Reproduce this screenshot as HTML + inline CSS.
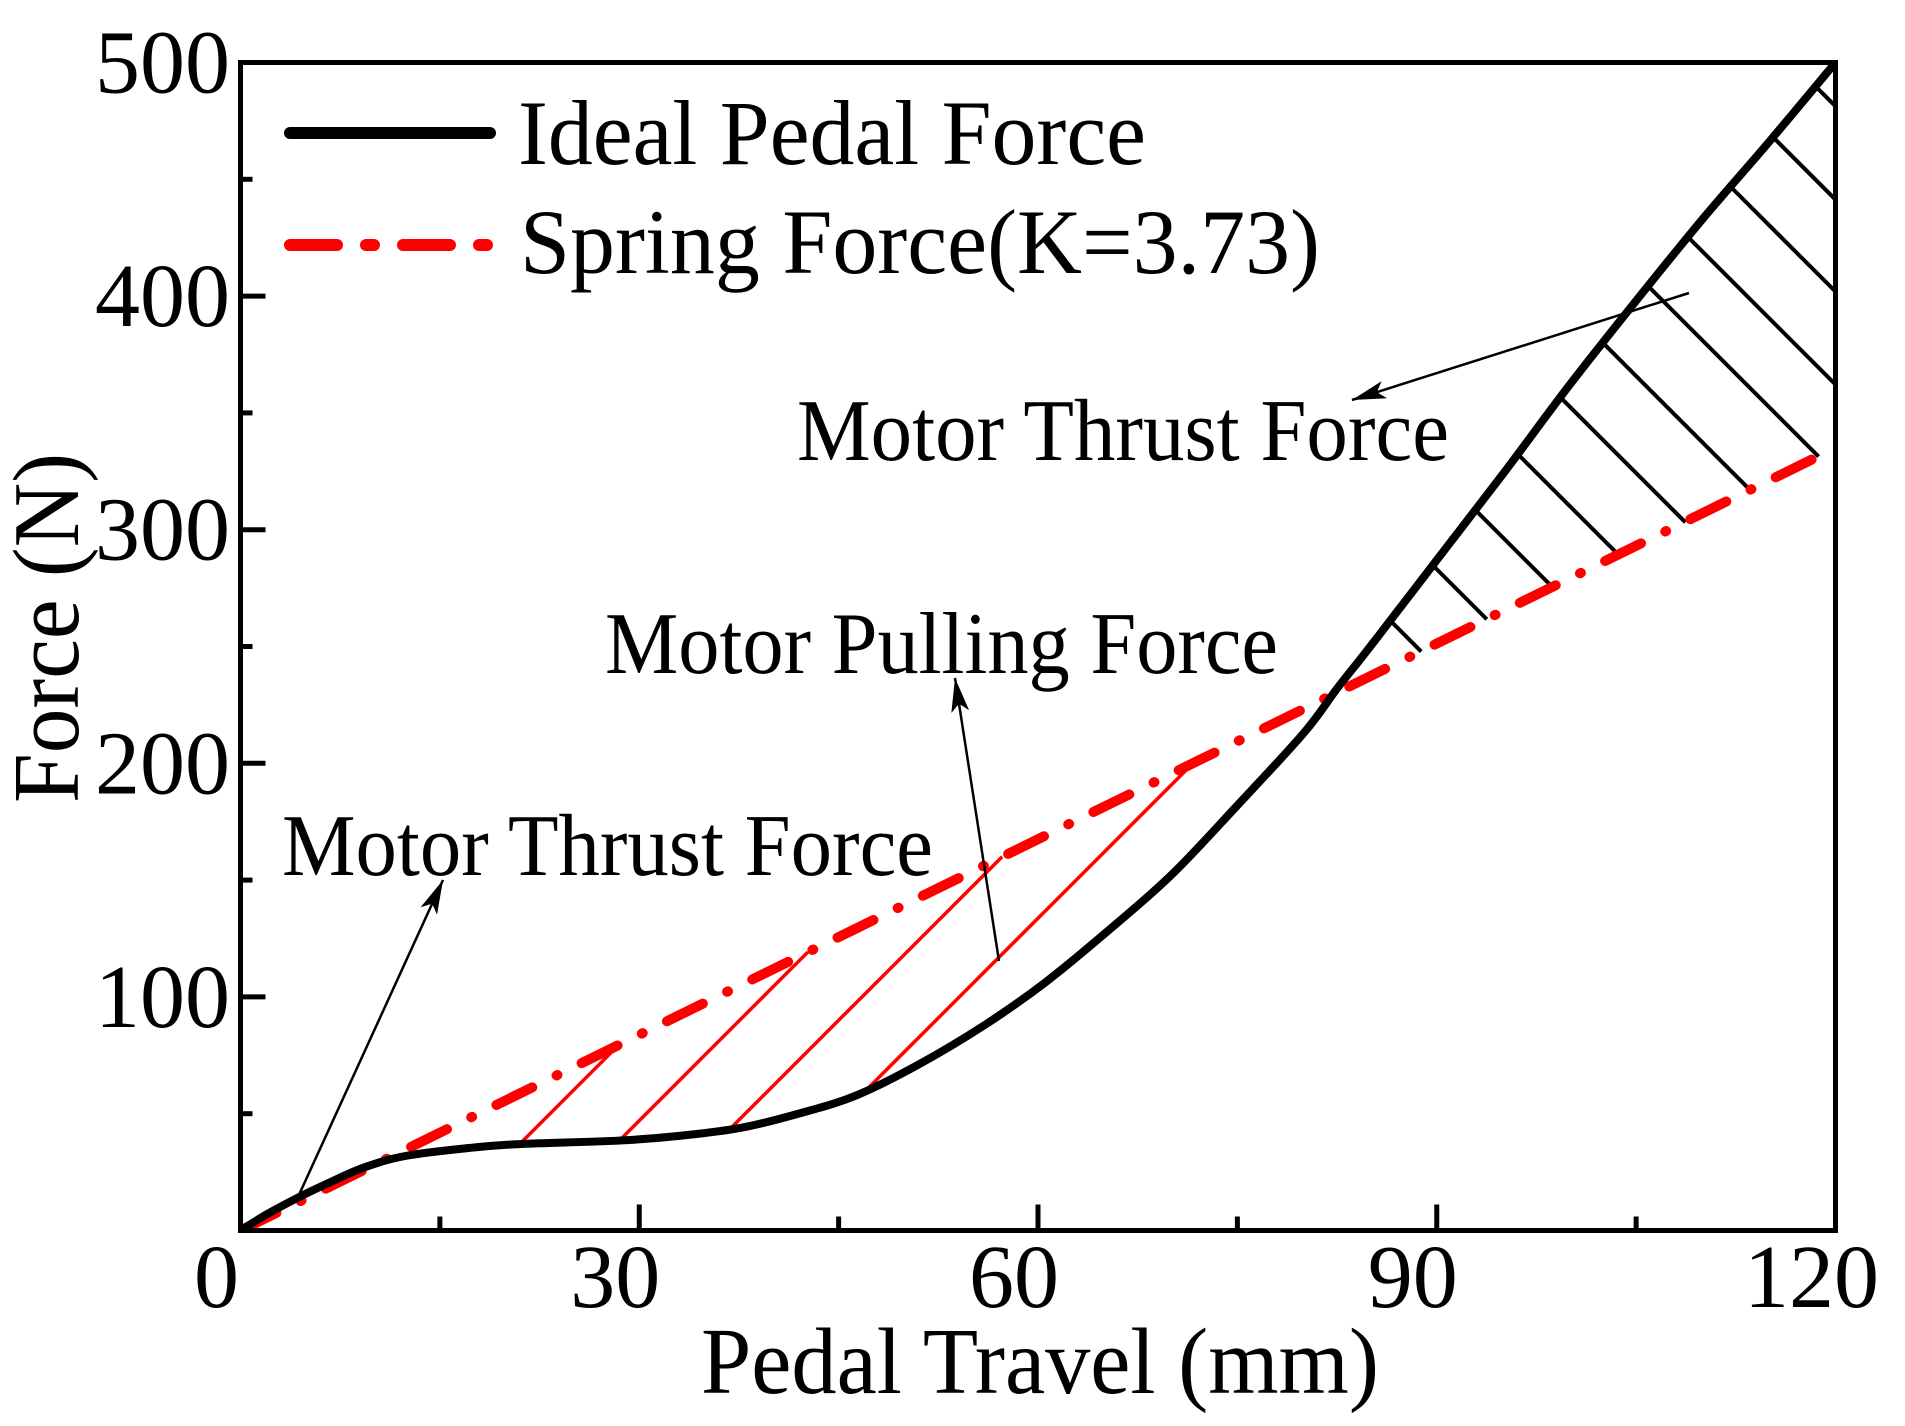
<!DOCTYPE html>
<html><head><meta charset="utf-8"><style>
html,body{margin:0;padding:0;background:#fff;}
svg{display:block;font-family:"Liberation Serif","Times New Roman",serif;}
</style></head><body>
<svg id="chart" width="1905" height="1426" viewBox="0 0 1905 1426" xmlns="http://www.w3.org/2000/svg">
<defs><clipPath id="plotclip"><rect x="240" y="62" width="1596" height="1169"/></clipPath></defs>
<g id="marks" clip-path="url(#plotclip)"></g>
<g id="axes"></g>
</svg>
<script>
const travelX = [0,2,4.3,6.5,9.3,12.5,17.5,21,28.5,33,37.7,42.3,46.4,51,56,60.5,65,70,75,80,82.5,85,90,95,100,105,110,115,120];
const idealForce = [0,7,14,20,27,32,35.5,37,38.5,40.5,44,50.5,58,71,88,106,127,152,182,213,232,250,287,324,362,398,433,466,500];
const springX = [0,120];
const springForce = [0,335];
const redHatchStarts = [21,28.5,36.8,47];
const blackHatchStarts = [86.5,89.7,92.9,96.1,99.3,102.5,105.9,108.9,112.1,115.3,118.5];
const xTicks = [0,30,60,90,120];
const xTickLabels = ["0","30","60","90","120"];
const xMinor = [15,45,75,105];
const yTicks = [100,200,300,400,500];
const yTickLabels = ["100","200","300","400","500"];
const yMinor = [50,150,250,350,450];

const X0=240.5,X1=1835.5,Y0=1230.5,Y1=62.5;
const sx=v=>X0+v*(X1-X0)/120;
const sy=v=>Y0-v*(Y0-Y1)/500;
const NS="http://www.w3.org/2000/svg";
const marks=document.getElementById('marks'), axes=document.getElementById('axes');
function mk(tag,attrs,parent){const e=document.createElementNS(NS,tag);for(const k in attrs)e.setAttribute(k,attrs[k]);parent.appendChild(e);return e;}
function interp(xs,ys,x){for(let i=0;i<xs.length-1;i++){if(x>=xs[i]&&x<=xs[i+1]){const t=(x-xs[i])/(xs[i+1]-xs[i]);return ys[i]+t*(ys[i+1]-ys[i]);}}return ys[ys.length-1];}
function idealPy(px){return sy(interp(travelX,idealForce,(px-X0)*120/(X1-X0)));}
function springPy(px){return sy(interp(springX,springForce,(px-X0)*120/(X1-X0)));}

redHatchStarts.forEach(v=>{
  const px=sx(v),py=idealPy(px);
  let d=0;while(d<800&&(py-d)>springPy(px+d))d+=0.5;
  const l=mk('line',{x1:px,y1:py,x2:px+d,y2:py-d,stroke:'#ff0000','stroke-width':3.5},marks);
  
  
});
blackHatchStarts.forEach(v=>{
  const px=sx(v),py=idealPy(px);
  let d=0;while(d<800&&(py+d)<springPy(px+d)&&(px+d)<X1)d+=0.5;
  const l=mk('line',{x1:px,y1:py,x2:px+d,y2:py+d,stroke:'#000','stroke-width':4},marks);
  
  
});
const sp=mk('polyline',{points:springX.map((x,i)=>sx(x)+','+sy(springForce[i])).join(' '),fill:'none',stroke:'#ff0000','stroke-width':10,'stroke-linecap':'round','stroke-dasharray':'40 27 1 27'},marks);


let pts=travelX.map((x,i)=>[sx(x),sy(idealForce[i])]);
let d='M'+pts[0][0]+','+pts[0][1];
for(let i=0;i<pts.length-1;i++){const p0=pts[Math.max(0,i-1)],p1=pts[i],p2=pts[i+1],p3=pts[Math.min(pts.length-1,i+2)];
d+=` C${p1[0]+(p2[0]-p0[0])/6},${p1[1]+(p2[1]-p0[1])/6} ${p2[0]-(p3[0]-p1[0])/6},${p2[1]-(p3[1]-p1[1])/6} ${p2[0]},${p2[1]}`;}
const ip=mk('path',{d:d,fill:'none',stroke:'#000','stroke-width':8,'stroke-linejoin':'round'},marks);



const fr=mk('rect',{x:X0,y:Y1,width:X1-X0,height:Y0-Y1,fill:'none',stroke:'#000','stroke-width':5},axes);


xTicks.forEach((v,i)=>{
  const t=mk('line',{x1:sx(v),y1:Y0,x2:sx(v),y2:Y0-26,stroke:'#000','stroke-width':5},axes);
  
  
  const tx=mk('text',{x:sx(v)-24,y:1307,'font-size':90,'text-anchor':'middle'},axes);
  tx.textContent=xTickLabels[i];
  
  
});
xMinor.forEach(v=>{
  const t=mk('line',{x1:sx(v),y1:Y0,x2:sx(v),y2:Y0-14,stroke:'#000','stroke-width':5},axes);
  
  
});
yTicks.forEach((v,i)=>{
  const t=mk('line',{x1:X0,y1:sy(v),x2:X0+25,y2:sy(v),stroke:'#000','stroke-width':5},axes);
  
  
  const tx=mk('text',{x:230,y:sy(v)+30,'font-size':90,'text-anchor':'end'},axes);
  tx.textContent=yTickLabels[i];
  
  
});
yMinor.forEach(v=>{
  const t=mk('line',{x1:X0,y1:sy(v),x2:X0+12,y2:sy(v),stroke:'#000','stroke-width':5},axes);
  
  
});
</script>
<svg style="position:absolute;left:0;top:0" width="1905" height="1426" viewBox="0 0 1905 1426" xmlns="http://www.w3.org/2000/svg" font-family="Liberation Serif, serif">
<defs>
<marker id="ahb" markerWidth="34" markerHeight="18" refX="34" refY="9" orient="auto" markerUnits="userSpaceOnUse"><path d="M0,0 L34,9 L0,18 L8,9 Z" fill="#000"/></marker></defs>
<text x="701" y="1393" font-size="94" textLength="678" lengthAdjust="spacingAndGlyphs">Pedal Travel (mm)</text>
<text transform="translate(78,803) rotate(-90)" font-size="94" textLength="350" lengthAdjust="spacingAndGlyphs">Force (N)</text>
<g>
<line x1="290" y1="133" x2="490" y2="133" stroke="#000" stroke-width="12" stroke-linecap="round"/>
<text x="518" y="164" font-size="92" textLength="628" lengthAdjust="spacingAndGlyphs">Ideal Pedal Force</text>
<line x1="290" y1="245" x2="490" y2="245" stroke="#ff0000" stroke-width="12" stroke-linecap="round" stroke-dasharray="47 29 8 29"/>
<text x="520" y="273" font-size="92" textLength="800" lengthAdjust="spacingAndGlyphs">Spring Force(K=3.73)</text>
</g>
<text x="797" y="460" font-size="88" textLength="652" lengthAdjust="spacingAndGlyphs">Motor Thrust Force</text>
<line x1="1689" y1="293" x2="1352" y2="400" stroke="#000" stroke-width="2.5" marker-end="url(#ahb)"/>
<text x="605" y="673" font-size="88" textLength="673" lengthAdjust="spacingAndGlyphs">Motor Pulling Force</text>
<line x1="999" y1="961" x2="955" y2="678" stroke="#000" stroke-width="2.5" marker-end="url(#ahb)"/>
<text x="282" y="875" font-size="88" textLength="651" lengthAdjust="spacingAndGlyphs">Motor Thrust Force</text>
<line x1="298" y1="1197" x2="443" y2="880" stroke="#000" stroke-width="2.5" marker-end="url(#ahb)"/>
</svg>
</body></html>
